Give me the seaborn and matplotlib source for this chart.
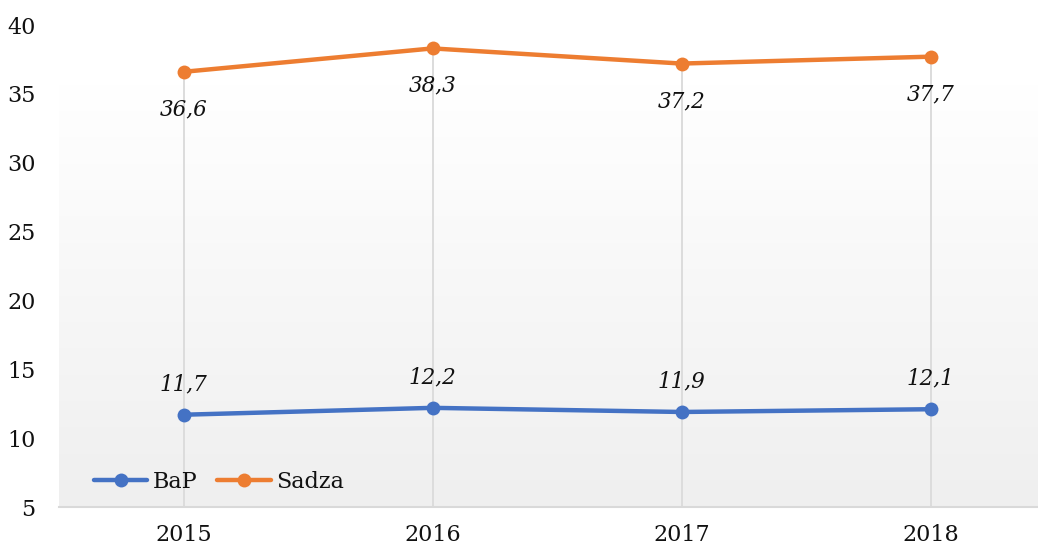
import matplotlib
matplotlib.use("Agg")
import matplotlib.pyplot as plt
import numpy as np
import pandas as pd
import seaborn as sns

# data
years = ["2015", "2016", "2017", "2018"]
bap = [11.7, 12.2, 11.9, 12.1]
sadza = [36.6, 38.3, 37.2, 37.7]
series_names = ["BaP", "Sadza"]
colors = {"BaP": "#4472C4", "Sadza": "#ED7D31"}

df = pd.DataFrame({
    "rok": years * 2,
    "x": list(range(len(years))) * 2,
    "wartosc": bap + sadza,
    "seria": [series_names[0]] * len(years) + [series_names[1]] * len(years),
})

sns.set_theme(style="white")
plt.rcParams["font.family"] = ["DejaVu Serif", "DejaVu Sans"]

W, H = 1038, 547
fig = plt.figure(figsize=(W / 100, H / 100), dpi=100)
ax = fig.add_axes([59 / W, 40 / H, 996 / W, 482 / H])

ax.set_xlim(-0.5, len(years) - 0.5)
ax.set_ylim(5, 40)

# gradient background of the plot area
grad = np.linspace(0, 1, 256).reshape(-1, 1)
ax.imshow(grad, extent=[-0.5, len(years) - 0.5, 5, 35.7], aspect="auto",
          cmap=matplotlib.colors.LinearSegmentedColormap.from_list("g", ["#efefef", "#ffffff"]),
          origin="lower", zorder=0)

# drop lines from the highest point to the axis
tops = np.maximum(bap, sadza)
for i, t in enumerate(tops):
    ax.plot([i, i], [5, t], color="#dcdcdc", lw=1.4, zorder=1)

sns.lineplot(data=df, x="x", y="wartosc", hue="seria", palette=colors,
             marker="o", markersize=10, markeredgewidth=0, linewidth=3.2,
             ax=ax, zorder=3)

# data labels
for i, v in enumerate(bap):
    ax.annotate(f"{v:.1f}".replace(".", ","), (i, v), xytext=(0, 22),
                textcoords="offset points", ha="center", va="center",
                fontsize=15.5, style="italic", color="#111111")
for i, v in enumerate(sadza):
    ax.annotate(f"{v:.1f}".replace(".", ","), (i, v), xytext=(0, -27),
                textcoords="offset points", ha="center", va="center",
                fontsize=15.5, style="italic", color="#111111")

ax.set_xticks(range(len(years)))
ax.set_xticklabels(years)
ax.set_yticks(range(5, 41, 5))
ax.tick_params(axis="both", labelsize=16, length=0, labelcolor="#111111")
ax.tick_params(axis="y", pad=17)
ax.tick_params(axis="x", pad=12)
ax.set_xlabel("")
ax.set_ylabel("")

for s in ["top", "right", "left"]:
    ax.spines[s].set_visible(False)
ax.spines["bottom"].set_color("#d9d9d9")
ax.spines["bottom"].set_linewidth(1.5)

leg = ax.legend(loc="lower left", bbox_to_anchor=(0.015, -0.013), ncol=2,
                frameon=False, fontsize=16, handlelength=2.4,
                columnspacing=0.9, handletextpad=0.25)
for t in leg.get_texts():
    t.set_color("#111111")

fig.savefig("out.png", dpi=100)
